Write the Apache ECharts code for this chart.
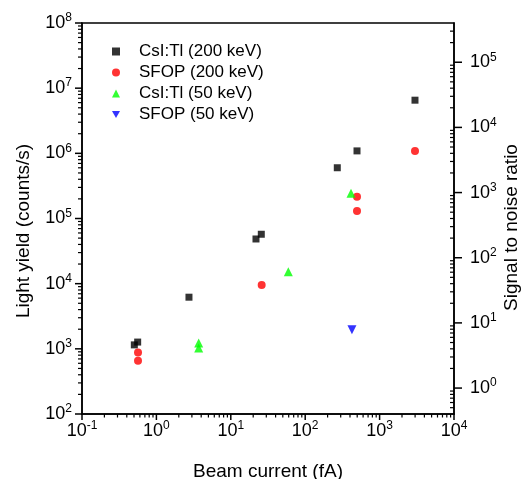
<!DOCTYPE html>
<html><head><meta charset="utf-8">
<script src="https://cdn.jsdelivr.net/npm/echarts@6/dist/echarts.min.js"></script>
<style>html,body{margin:0;padding:0;background:#fff}#c{width:521px;height:479px}</style>
</head><body><div id="c"></div><script>
// ---- data ----
const csi200X = [0.505, 0.56, 2.74, 21.8, 25.7, 270, 497, 2990];
const csi200Y = [1150, 1270, 6200, 48500, 57300, 601000, 1090000, 6540000];
const sfop200X = [0.566, 0.566, 26, 497, 497, 2990];
const sfop200Y = [880, 656, 9580, 216000, 130000, 1090000];
const csi50X = [3.7, 3.7, 59.3, 413];
const csi50Y = [1225, 1026, 15300, 243000];
const sfop50X = [425];
const sfop50Y = [1960];
const seriesNames = ['CsI:Tl (200 keV)', 'SFOP (200 keV)', 'CsI:Tl (50 keV)', 'SFOP (50 keV)'];
// ---- tick labels ----
const xMajor = [0.1, 1, 10, 100, 1000, 10000];
const yLeftMajor = [1e2, 1e3, 1e4, 1e5, 1e6, 1e7, 1e8];
const yRightMajor = [1, 10, 100, 1000, 1e4, 1e5];
// axis ranges
const xRange = [0.1, 10000];
const yLeftRange = [100, 1e8];
const yRightRange = [0.4, 4e5];

const FONT = '"Liberation Sans", Arial, sans-serif';
const DOWN_TRI = 'path://M0,0 L10,0 L5,8.66 Z';
function minors(lo, hi, min, max) {
  const out = [];
  for (let d = lo; d < hi; d *= 10) for (let k = 2; k <= 9; k++) {
    const v = +(d * k).toPrecision(3);
    if (v > min && v < max) out.push(v);
  }
  return out;
}
const xMinor = minors(0.1, 10000, xRange[0], xRange[1]);
const yLeftMinor = minors(100, 1e8, yLeftRange[0], yLeftRange[1]);
const yRightMinor = minors(0.1, 1e6, yRightRange[0], yRightRange[1]);

function fmt(v) {
  const e = Math.round(Math.log10(v));
  return '{b|10}{s|' + e + '}';
}
function rich() {
  return {
    b: {fontSize: 18, fontFamily: FONT, color: '#000', lineHeight: 22},
    s: {fontSize: 12, fontFamily: FONT, color: '#000', verticalAlign: 'top', lineHeight: 22}
  };
}
function line() { return {show: true, onZero: false, lineStyle: {color: '#000', width: 1.5}}; }
function off() { return {show: false}; }
function zip(xs, ys) { return xs.map((x, i) => [x, ys[i]]); }
function nameStyle(pad) {
  return {fontSize: 19, color: '#000', fontFamily: FONT, padding: pad};
}
// tick marks drawn through the axes' own scales (custom series)
function tickSeries(points, yAxisIndex, dx, dy, width) {
  return {
    type: 'custom', yAxisIndex: yAxisIndex, xAxisIndex: 0, silent: true, clip: false, z: 10,
    data: points,
    renderItem: function (params, api) {
      const p = api.coord([api.value(0), api.value(1)]);
      return {type: 'line', shape: {x1: p[0], y1: p[1], x2: p[0] + dx, y2: p[1] + dy},
              style: {stroke: '#000', lineWidth: width}};
    }
  };
}
const atBottom = v => [v, yLeftRange[0]];
const atLeft = v => [xRange[0], v];
const atRight = v => [xRange[1], v];

const chart = echarts.init(document.getElementById('c'), null, {renderer: 'canvas'});
chart.setOption({
  animation: false,
  backgroundColor: '#fff',
  textStyle: {fontFamily: FONT},
  grid: {left: 82, right: 67, top: 23, bottom: 65, outerBoundsMode: 'none', containLabel: false,
         show: true, borderColor: '#000', borderWidth: 1.5, backgroundColor: 'transparent'},
  legend: {
    orient: 'vertical', left: 107, top: 38, itemWidth: 8, itemHeight: 8, itemGap: 4,
    textStyle: {fontSize: 17, color: '#000', fontFamily: FONT, padding: [0, 0, 0, 14]},
    data: seriesNames
  },
  xAxis: [
    {type: 'log', logBase: 10, min: xRange[0], max: xRange[1], position: 'bottom',
     name: 'Beam current (fA)', nameLocation: 'middle', nameGap: 48, nameMoveOverlap: false,
     nameTextStyle: nameStyle([0, 0, 0, 0]),
     axisLine: line(), splitLine: off(), axisTick: off(),
     axisLabel: {customValues: xMajor, formatter: fmt, margin: 6, rich: rich()}}
  ],
  yAxis: [
    {type: 'log', logBase: 10, min: yLeftRange[0], max: yLeftRange[1], position: 'left',
     name: 'Light yield (counts/s)', nameLocation: 'middle', nameGap: 49, nameRotate: 90, nameMoveOverlap: false,
     nameTextStyle: nameStyle([0, 25, 0, 0]),
     axisLine: line(), splitLine: off(), axisTick: off(),
     axisLabel: {customValues: yLeftMajor, formatter: fmt, margin: 10, rich: rich()}},
    {type: 'log', logBase: 10, min: yRightRange[0], max: yRightRange[1], position: 'right',
     name: 'Signal to noise ratio', nameLocation: 'middle', nameGap: 48, nameRotate: 90, nameMoveOverlap: false,
     nameTextStyle: nameStyle([0, 18, 0, 0]),
     axisLine: line(), splitLine: off(), axisTick: off(),
     axisLabel: {customValues: yRightMajor, formatter: fmt, margin: 16, rich: rich()}}
  ],
  series: [
    {name: seriesNames[0], type: 'scatter', symbol: 'rect', symbolSize: 7, itemStyle: {color: '#000'}, data: zip(csi200X, csi200Y)},
    {name: seriesNames[1], type: 'scatter', symbol: 'circle', symbolSize: 8, itemStyle: {color: '#ff0000'}, data: zip(sfop200X, sfop200Y)},
    {name: seriesNames[2], type: 'scatter', symbol: 'triangle', symbolSize: 9, itemStyle: {color: '#00ff00'}, data: zip(csi50X, csi50Y)},
    {name: seriesNames[3], type: 'scatter', symbol: DOWN_TRI, symbolSize: 9, itemStyle: {color: '#0000ff'}, data: zip(sfop50X, sfop50Y)},
    tickSeries(xMajor.map(atBottom), 0, 0, 6, 1.5),
    tickSeries(xMinor.map(atBottom), 0, 0, 3.5, 1.2),
    tickSeries(yLeftMajor.map(atLeft), 0, -7, 0, 1.5),
    tickSeries(yLeftMinor.map(atLeft), 0, -4, 0, 1.2),
    tickSeries(yRightMajor.map(atRight), 1, 8, 0, 1.5),
    tickSeries(yRightMinor.map(atRight), 1, -4, 0, 1.2)
  ]
});
</script></body></html>
